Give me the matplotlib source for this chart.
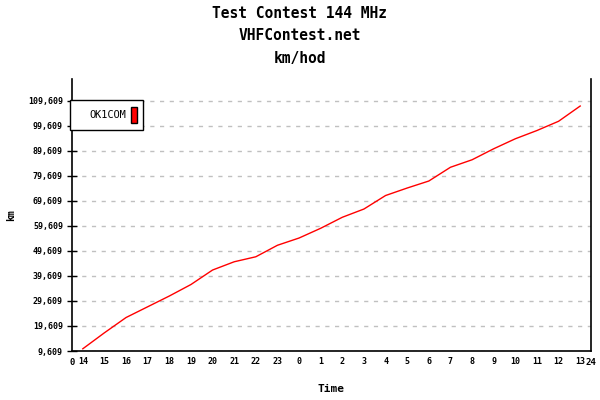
import matplotlib
matplotlib.use("Agg")
import matplotlib.pyplot as plt
from matplotlib.patches import Rectangle

# Data
hours = [14, 15, 16, 17, 18, 19, 20, 21, 22, 23, 0, 1, 2, 3, 4, 5, 6, 7, 8, 9, 10, 11, 12, 13]
km = [10.5, 16.9, 23.0, 27.3, 31.6, 36.2, 42.0, 45.3, 47.3, 51.9, 54.8, 58.7,
      63.1, 66.4, 71.8, 74.8, 77.6, 83.1, 86.1, 90.5, 94.5, 97.8, 101.5, 107.6]
y_ticks = [9.609 + 10 * k for k in range(11)]
series_name = "OK1COM"

mono = "DejaVu Sans Mono"

# plot area in pixels: x 72..591, y 79..351 (2.5 px per km)
fig = plt.figure(figsize=(6, 4), dpi=100)
ax = fig.add_axes([72 / 600, 1 - 351 / 400, (591 - 72) / 600, (351 - 79) / 400])

x = [i + 0.5 for i in range(len(hours))]
ax.plot(x, km, color="red", linewidth=1)

ax.set_xlim(0, 24)
ax.set_ylim(9.609, 9.609 + (351 - 79) / 2.5)

ax.set_yticks(y_ticks)
ax.set_yticklabels([f"{v:.3f}".replace(".", ",") for v in y_ticks],
                   fontfamily=mono, fontweight="bold", fontsize=6)
ax.tick_params(axis="y", direction="inout", length=7, width=1, pad=3)

ax.set_xticks(x)
ax.set_xticklabels([str(h) for h in hours], fontfamily=mono, fontweight="bold", fontsize=6)
ax.tick_params(axis="x", length=0, pad=4)

# end labels 0 and 24 under the axis ends
ax.text(0, -0.025, "0", transform=ax.transAxes, ha="center", va="top",
        fontfamily=mono, fontweight="bold", fontsize=6.5)
ax.text(1, -0.025, "24", transform=ax.transAxes, ha="center", va="top",
        fontfamily=mono, fontweight="bold", fontsize=6.5)

ax.grid(axis="y", color="#c0c0c0", linestyle=(0, (3, 4)), linewidth=1)
ax.set_axisbelow(True)
ax.spines["top"].set_visible(False)
for s in ["left", "bottom", "right"]:
    ax.spines[s].set_linewidth(1.2)

ax.set_xlabel("Time", fontfamily=mono, fontweight="bold", fontsize=8)
ax.xaxis.set_label_coords(0.5, -(384 - 351) / 272)
ax.set_ylabel("km", fontfamily=mono, fontweight="bold", fontsize=7)
ax.yaxis.set_label_coords(-(72 - 16) / 519, (351 - 215) / 272)

# Titles
fig.text(0.5, 1 - 14 / 400, "Test Contest 144 MHz", ha="center", va="center",
         fontfamily=mono, fontweight="bold", fontsize=10.5)
fig.text(0.5, 1 - 36 / 400, "VHFContest.net", ha="center", va="center",
         fontfamily=mono, fontweight="bold", fontsize=10.5)
fig.text(0.5, 1 - 58 / 400, "km/hod", ha="center", va="center",
         fontfamily=mono, fontweight="bold", fontsize=10.5)

# Legend box
fig.add_artist(Rectangle((70 / 600, 1 - 130 / 400), 73 / 600, 30 / 400,
                         transform=fig.transFigure, facecolor="white",
                         edgecolor="black", linewidth=1, zorder=10))
fig.text(126 / 600, 1 - 115 / 400, series_name, ha="right", va="center",
         fontfamily=mono, fontsize=7.4, zorder=11)
fig.add_artist(Rectangle((131 / 600, 1 - 123 / 400), 6 / 600, 16 / 400,
                         transform=fig.transFigure, facecolor="red",
                         edgecolor="black", linewidth=1, zorder=11))

fig.savefig("out.png", dpi=100)
